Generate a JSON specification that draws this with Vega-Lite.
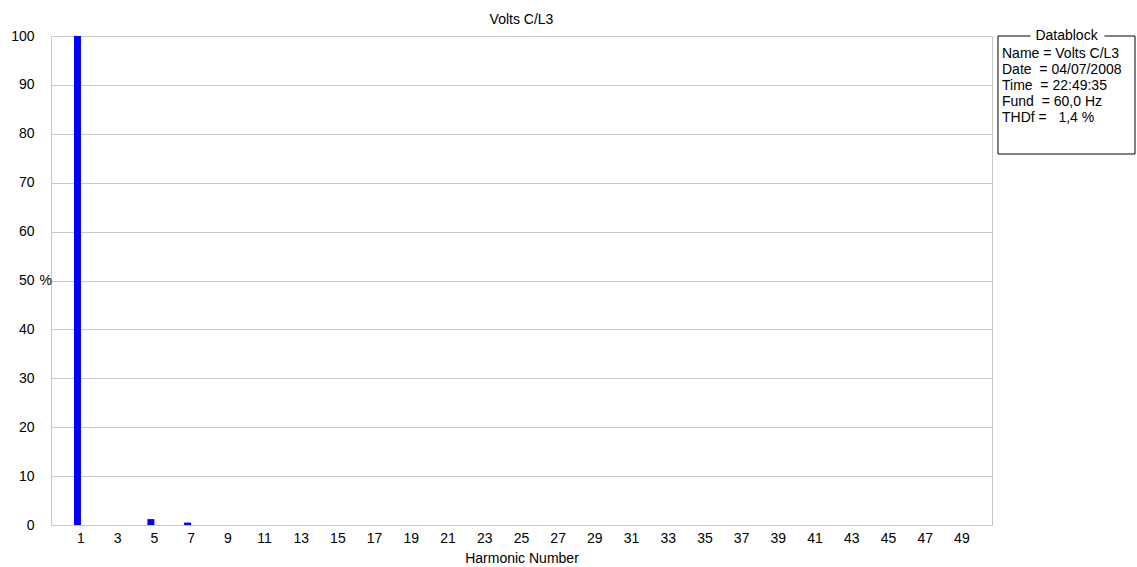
{
  "$schema": "https://vega.github.io/schema/vega-lite/v6.json",
  "background": "white",
  "padding": {"left": 10, "top": 12, "right": 0, "bottom": 0},
  "spacing": 4,
  "config": {
    "font": "Liberation Sans",
    "axis": {"labelFont": "Liberation Sans", "labelFontSize": 14, "labelColor": "black", "titleFont": "Liberation Sans", "titleFontSize": 14, "titleFontWeight": "normal", "titleColor": "black"},
    "title": {"font": "Liberation Sans", "fontSize": 14, "fontWeight": "normal", "color": "black"}
  },
  "datasets": {
    "harmonics": [
      {"harmonic": 1, "pct": 100}, {"harmonic": 2, "pct": 0}, {"harmonic": 3, "pct": 0}, {"harmonic": 4, "pct": 0},
      {"harmonic": 5, "pct": 1.2}, {"harmonic": 6, "pct": 0}, {"harmonic": 7, "pct": 0.5}, {"harmonic": 8, "pct": 0},
      {"harmonic": 9, "pct": 0}, {"harmonic": 10, "pct": 0}, {"harmonic": 11, "pct": 0}, {"harmonic": 12, "pct": 0},
      {"harmonic": 13, "pct": 0}, {"harmonic": 14, "pct": 0}, {"harmonic": 15, "pct": 0}, {"harmonic": 16, "pct": 0},
      {"harmonic": 17, "pct": 0}, {"harmonic": 18, "pct": 0}, {"harmonic": 19, "pct": 0}, {"harmonic": 20, "pct": 0},
      {"harmonic": 21, "pct": 0}, {"harmonic": 22, "pct": 0}, {"harmonic": 23, "pct": 0}, {"harmonic": 24, "pct": 0},
      {"harmonic": 25, "pct": 0}, {"harmonic": 26, "pct": 0}, {"harmonic": 27, "pct": 0}, {"harmonic": 28, "pct": 0},
      {"harmonic": 29, "pct": 0}, {"harmonic": 30, "pct": 0}, {"harmonic": 31, "pct": 0}, {"harmonic": 32, "pct": 0},
      {"harmonic": 33, "pct": 0}, {"harmonic": 34, "pct": 0}, {"harmonic": 35, "pct": 0}, {"harmonic": 36, "pct": 0},
      {"harmonic": 37, "pct": 0}, {"harmonic": 38, "pct": 0}, {"harmonic": 39, "pct": 0}, {"harmonic": 40, "pct": 0},
      {"harmonic": 41, "pct": 0}, {"harmonic": 42, "pct": 0}, {"harmonic": 43, "pct": 0}, {"harmonic": 44, "pct": 0},
      {"harmonic": 45, "pct": 0}, {"harmonic": 46, "pct": 0}, {"harmonic": 47, "pct": 0}, {"harmonic": 48, "pct": 0},
      {"harmonic": 49, "pct": 0}, {"harmonic": 50, "pct": 0}
    ],
    "datablock": [
      {"line": 1, "text": "Name = Volts C/L3"},
      {"line": 2, "text": "Date \u00a0= 04/07/2008"},
      {"line": 3, "text": "Time \u00a0= 22:49:35"},
      {"line": 4, "text": "Fund \u00a0= 60,0 Hz"},
      {"line": 5, "text": "THDf = \u00a0 1,4 %"}
    ],
    "border": [
      {"x": 0, "x2": 0, "y": 0, "y2": 7.375},
      {"x": 1, "x2": 1, "y": 0, "y2": 7.375},
      {"x": 0, "x2": 1, "y": 7.375, "y2": 7.375},
      {"x": 0, "x2": 0.237, "y": 0, "y2": 0},
      {"x": 0.777, "x2": 1, "y": 0, "y2": 0}
    ]
  },
  "hconcat": [
    {
      "title": {"text": "Volts C/L3", "offset": 2, "anchor": "middle"},
      "width": 941,
      "height": 489,
      "view": {"stroke": "#c8c8c8"},
      "layer": [
        {
          "data": {"name": "harmonics"},
          "mark": {"type": "bar", "color": "#0000ff", "size": 7},
          "encoding": {
            "x": {
              "field": "harmonic", "type": "quantitative",
              "scale": {"domain": [-0.17, 50.56], "nice": false, "zero": false},
              "axis": {
                "values": [1,3,5,7,9,11,13,15,17,19,21,23,25,27,29,31,33,35,37,39,41,43,45,47,49],
                "tickCount": 60,
                "grid": false, "domain": false, "ticks": false, "labelOverlap": false, "labelFlush": false,
                "labelOffset": 3, "labelPadding": 6,
                "title": "Harmonic Number", "titlePadding": 6
              }
            },
            "y": {
              "field": "pct", "type": "quantitative",
              "scale": {"domain": [0, 100], "nice": false},
              "axis": {
                "values": [0,10,20,30,40,50,60,70,80,90,100],
                "tickCount": 20,
                "grid": true, "gridColor": "#c8c8c8", "domain": false, "ticks": false, "labelOverlap": false,
                "labelPadding": 17, "title": null
              }
            }
          }
        },
        {
          "data": {"values": [{"pct": 50, "unit": "%"}]},
          "mark": {"type": "text", "align": "right", "baseline": "middle", "dx": -4, "fontSize": 14, "font": "Liberation Sans", "color": "black"},
          "encoding": {
            "x": {"datum": -0.17, "type": "quantitative"},
            "y": {"field": "pct", "type": "quantitative"},
            "text": {"field": "unit"}
          }
        }
      ]
    },
    {
      "width": 137,
      "height": 118,
      "view": {"stroke": null},
      "layer": [
        {
          "data": {"name": "border"},
          "mark": {"type": "rule", "color": "black", "strokeWidth": 1},
          "encoding": {
            "x": {"field": "x", "type": "quantitative", "scale": {"domain": [0, 1], "nice": false}, "axis": null},
            "x2": {"field": "x2"},
            "y": {"field": "y", "type": "quantitative", "scale": {"domain": [0, 7.375], "reverse": true, "nice": false}, "axis": null},
            "y2": {"field": "y2"}
          }
        },
        {
          "data": {"values": [{"x": 0.5, "line": 0, "text": "Datablock"}]},
          "mark": {"type": "text", "align": "center", "baseline": "middle", "fontSize": 14, "font": "Liberation Sans", "color": "black"},
          "encoding": {
            "x": {"field": "x", "type": "quantitative"},
            "y": {"field": "line", "type": "quantitative"},
            "text": {"field": "text"}
          }
        },
        {
          "data": {"name": "datablock"},
          "mark": {"type": "text", "align": "left", "baseline": "middle", "dx": 4, "dy": 2, "fontSize": 14, "font": "Liberation Sans", "color": "black"},
          "encoding": {
            "x": {"datum": 0, "type": "quantitative"},
            "y": {"field": "line", "type": "quantitative"},
            "text": {"field": "text"}
          }
        }
      ]
    }
  ]
}
